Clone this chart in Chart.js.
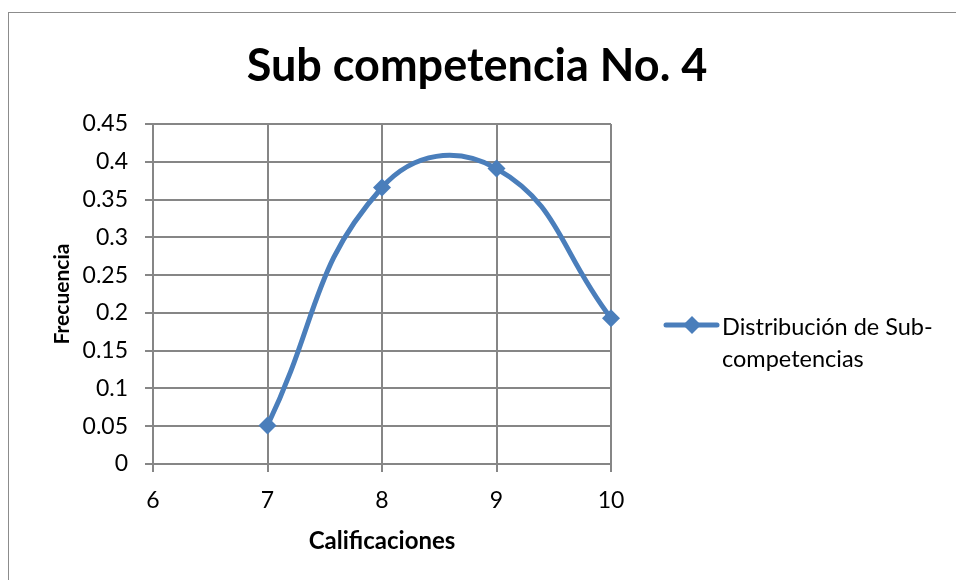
<!DOCTYPE html>
<html lang="es">
<head>
  <meta charset="UTF-8">
  <title>Sub competencia No. 4</title>
  <script src="https://cdn.jsdelivr.net/npm/chart.js"></script>
  <style>
    html, body { margin: 0; padding: 0; background: #fff; overflow: hidden; }
    .frame {
      position: absolute;
      left: 8px;
      top: 12px;
      width: 1200px;
      height: 800px;
      border: 1px solid #8c8c8c;
    }
    .wrap { position: absolute; left: 0; top: 0; width: 956px; height: 580px; }
  </style>
</head>
<body>
  <div class="frame"></div>
  <div class="wrap"><canvas id="chart" width="956" height="580"></canvas></div>

  <script>
    const chartTitle = 'Sub competencia No. 4';
    const xTitle = 'Calificaciones';
    const yTitle = 'Frecuencia';
    const seriesLabel = ['Distribución de Sub-', 'competencias'];

    const grades = [7, 8, 9, 10];
    const frequency = [0.051, 0.366, 0.391, 0.193];

    const xMin = 6, xMax = 10, xStep = 1;
    const yMin = 0, yMax = 0.45, yStep = 0.05;

    const blue = '#4a7ebb';
    const grid = '#868686';
    const fontFamily = 'Lato, Carlito, Calibri, sans-serif';

    // title centred on the whole picture, legend drawn by hand (label wraps on two lines)
    const decorations = {
      id: 'decorations',
      afterDraw(chart) {
        const ctx = chart.ctx;
        ctx.save();
        ctx.fillStyle = '#000';
        ctx.textAlign = 'center';
        ctx.textBaseline = 'middle';
        ctx.font = 'bold 45px ' + fontFamily;
        ctx.fillText(chartTitle, 477, 66);

        const y = 325;
        ctx.strokeStyle = blue;
        ctx.lineWidth = 5;
        ctx.lineCap = 'round';
        ctx.beginPath();
        ctx.moveTo(666, y);
        ctx.lineTo(717, y);
        ctx.stroke();
        ctx.fillStyle = blue;
        ctx.beginPath();
        ctx.moveTo(692, y - 9);
        ctx.lineTo(701, y);
        ctx.lineTo(692, y + 9);
        ctx.lineTo(683, y);
        ctx.closePath();
        ctx.fill();
        ctx.fillStyle = '#000';
        ctx.textAlign = 'left';
        ctx.font = '23.5px ' + fontFamily;
        ctx.fillText(seriesLabel[0], 722, 327);
        ctx.fillText(seriesLabel[1], 722, 359);
        ctx.restore();
      }
    };

    new Chart(document.getElementById('chart'), {
      type: 'line',
      data: {
        datasets: [{
          label: seriesLabel.join(''),
          data: grades.map((g, i) => ({ x: g, y: frequency[i] })),
          borderColor: blue,
          backgroundColor: blue,
          borderWidth: 5,
          tension: 0.45,
          pointStyle: 'rectRot',
          pointRadius: 9,
          pointBorderWidth: 0,
          pointBackgroundColor: blue,
          clip: false
        }]
      },
      options: {
        responsive: false,
        animation: false,
        layout: { padding: { left: 0, right: 345, top: 124, bottom: 0 } },
        plugins: {
          legend: { display: false },
          tooltip: { enabled: false },
          title: { display: false }
        },
        scales: {
          x: {
            type: 'linear',
            min: xMin,
            max: xMax,
            afterFit(scale) { scale.height = 116; },
            ticks: { stepSize: xStep, color: '#000', padding: 15, font: { family: fontFamily, size: 23 } },
            grid: { color: grid, lineWidth: 2, tickLength: 8, drawTicks: true },
            border: { color: grid, width: 2 },
            title: {
              display: true,
              text: xTitle,
              color: '#000',
              font: { family: fontFamily, size: 24, weight: 'bold', lineHeight: 1.2 },
              padding: { top: 0, bottom: 24 }
            }
          },
          y: {
            min: yMin,
            max: yMax,
            afterFit(scale) { scale.width = 153; },
            ticks: {
              stepSize: yStep,
              color: '#000',
              padding: 17,
              font: { family: fontFamily, size: 23 },
              callback: v => String(Math.round(v * 100) / 100)
            },
            grid: { color: grid, lineWidth: 2, tickLength: 8, drawTicks: true },
            border: { color: grid, width: 2 },
            title: {
              display: true,
              text: yTitle,
              color: '#000',
              font: { family: fontFamily, size: 21, weight: 'bold', lineHeight: 1.2 },
              padding: { top: 50, bottom: 0 }
            }
          }
        }
      },
      plugins: [decorations]
    });
  </script>
</body>
</html>
